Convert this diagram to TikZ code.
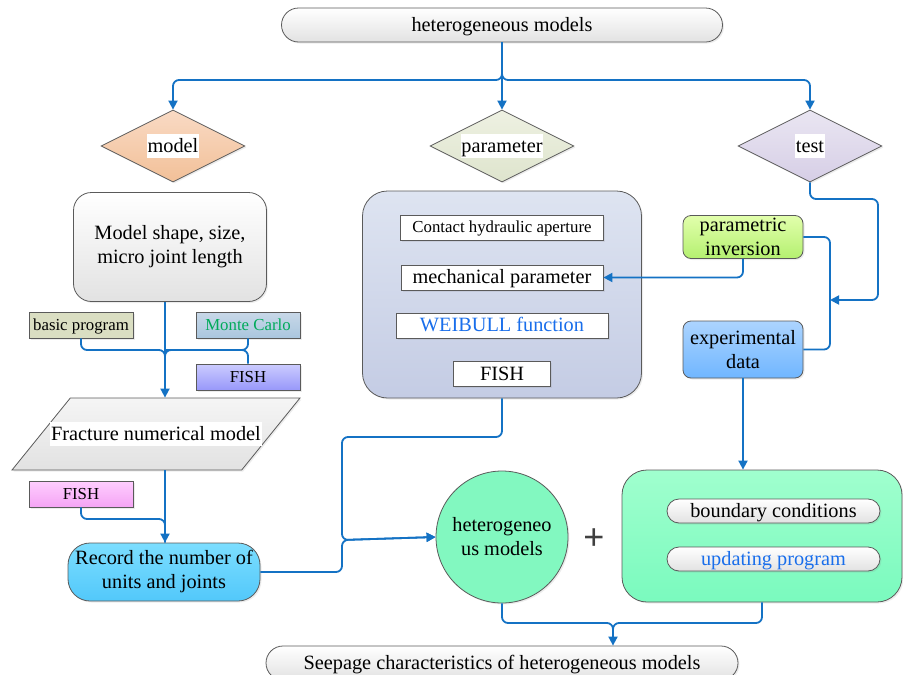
\documentclass[tikz,border=0pt]{standalone}
\usepackage{fontspec}
\setmainfont{Liberation Serif}
\newfontfamily\plusfont{Liberation Sans}
\usetikzlibrary{shapes.geometric,arrows.meta,shadows}
\definecolor{flowblue}{RGB}{20,114,196}
\definecolor{edgegray}{RGB}{90,90,90}
\definecolor{pillgray}{RGB}{226,226,226}
\definecolor{modeltop}{RGB}{249,218,196}
\definecolor{modelbot}{RGB}{242,192,152}
\definecolor{paramtop}{RGB}{238,241,226}
\definecolor{parambot}{RGB}{222,228,205}
\definecolor{testtop}{RGB}{234,230,242}
\definecolor{testbot}{RGB}{214,206,230}
\definecolor{basiccol}{RGB}{218,222,194}
\definecolor{montetop}{RGB}{200,216,232}
\definecolor{montebot}{RGB}{170,198,222}
\definecolor{monteink}{RGB}{0,170,90}
\definecolor{fishtop}{RGB}{204,204,255}
\definecolor{fishbot}{RGB}{152,152,250}
\definecolor{pinktop}{RGB}{255,206,255}
\definecolor{pinkbot}{RGB}{244,164,244}
\definecolor{rectop}{RGB}{124,222,255}
\definecolor{recbot}{RGB}{82,200,250}
\definecolor{boxtop}{RGB}{222,228,241}
\definecolor{boxbot}{RGB}{196,204,228}
\definecolor{invtop}{RGB}{226,255,172}
\definecolor{invbot}{RGB}{180,240,112}
\definecolor{exptop}{RGB}{172,212,255}
\definecolor{expbot}{RGB}{112,182,255}
\definecolor{greentop}{RGB}{160,255,206}
\definecolor{greenbot}{RGB}{122,250,190}
\definecolor{circcol}{RGB}{130,248,192}
\definecolor{linkink}{RGB}{25,110,235}
\definecolor{plusgray}{RGB}{64,64,64}
\setlength{\fboxsep}{0.8pt}
\newcommand{\lblbox}[1]{\colorbox{white}{\rule[-5pt]{0pt}{23pt}#1}}

\begin{document}
\begin{tikzpicture}[x=1pt, y=-1pt,
  every node/.style={font=\fontsize{20.3}{24}\selectfont, align=center, inner sep=0pt},
  oneline/.style={text height=15.9pt, text depth=3.3pt},
  smallline/.style={font=\fontsize{16.8}{19}\selectfont, text height=13.4pt, text depth=2.8pt},
  box/.style={draw=edgegray, line width=0.8pt, drop shadow={opacity=0.15, shadow xshift=1.5pt, shadow yshift=-1.5pt}},
  decision/.style={box, oneline, diamond, aspect=2, minimum width=144pt, minimum height=72pt},
  tag/.style={box, smallline, rectangle, minimum width=104pt, minimum height=26pt},
  inbox/.style={box, oneline, rectangle, fill=white, minimum height=25pt},
  pill/.style={box, oneline, rounded corners=12pt, top color=white, bottom color=pillgray, minimum width=213pt, minimum height=24pt},
  flowline/.style={draw=flowblue, line width=1.8pt, rounded corners=6pt, -{Triangle[length=9pt,width=9pt]}},
  linkline/.style={draw=flowblue, line width=1.8pt, rounded corners=6pt}]
  \useasboundingbox (0,0) rectangle (903,675);

  % Top
  \node[box, oneline, rounded corners=17pt, minimum width=441pt, minimum height=34pt, top color=white, bottom color=pillgray] (title) at (502,25) {heterogeneous models};
  \node[decision, top color=modeltop, bottom color=modelbot] (model) at (173,146) {\lblbox{model}};
  \node[decision, top color=paramtop, bottom color=parambot] (param) at (502,146) {\lblbox{parameter}};
  \node[decision, top color=testtop, bottom color=testbot] (test) at (810,146) {\lblbox{test}};
  \coordinate (jtop) at (502,80);

  % Model branch
  \node[box, rounded corners=18pt, minimum width=193pt, minimum height=109pt, top color=white, bottom color=pillgray] (shape) at (170,247) {Model shape, size,\\micro joint length};
  \node[tag, fill=basiccol] (basic) at (81,325) {basic program};
  \node[tag, top color=montetop, bottom color=montebot, text=monteink] (monte) at (248,325) {Monte Carlo};
  \node[tag, top color=fishtop, bottom color=fishbot] (fishA) at (248,377) {FISH};
  \node[box, oneline, trapezium, trapezium left angle=51, trapezium right angle=129, trapezium stretches body, inner ysep=26.4pt, minimum width=288pt, minimum height=72pt, top color=white!96!black, bottom color=pillgray] (frac) at (156,434) {\makebox[0pt]{\lblbox{Fracture numerical model}}};
  \node[tag, top color=pinktop, bottom color=pinkbot] (fishB) at (81,494) {FISH};
  \node[box, rounded corners=22pt, minimum width=192pt, minimum height=58pt, top color=rectop, bottom color=recbot] (rec) at (164,572) {Record the number of\\units and joints};
  \coordinate (jm) at (165,350);
  \coordinate (jrec) at (165,519);

  % Parameter branch
  \node[box, rounded corners=25pt, minimum width=279pt, minimum height=207pt, top color=boxtop, bottom color=boxbot] (pbox) at (502,294.5) {};
  \node[inbox, smallline, minimum width=203pt] (contact) at (502,227.5) {Contact hydraulic aperture};
  \node[inbox, minimum width=202pt] (mech) at (502,277.5) {mechanical parameter};
  \node[inbox, minimum width=212pt, text=linkink] (weib) at (502,325.5) {WEIBULL function};
  \node[inbox, minimum width=97pt] (fishC) at (502,374) {FISH};

  % Test branch
  \node[box, rounded corners=8pt, minimum width=120pt, minimum height=43pt, top color=invtop, bottom color=invbot] (pinv) at (743,237) {parametric\\inversion};
  \node[box, rounded corners=8pt, minimum width=120pt, minimum height=57pt, top color=exptop, bottom color=expbot] (exp) at (743,349.5) {experimental\\data};
  \coordinate (jv) at (830,300);
  \coordinate (tbend) at (878,199);

  % Result
  \node[box, circle, minimum size=132pt, fill=circcol] (circ) at (502,537) {heterogeneo\\us models};
  \node[text=plusgray, font=\plusfont\fontsize{36}{40}\selectfont] (plus) at (594,539) {+};
  \node[box, rounded corners=25pt, minimum width=280pt, minimum height=132pt, top color=greentop, bottom color=greenbot] (gbox) at (762,536) {};
  \node[pill] (bound) at (773.5,511) {boundary conditions};
  \node[pill, text=linkink] (upd) at (773.5,559) {updating program};
  \node[box, oneline, rounded corners=17pt, minimum width=472pt, minimum height=34pt, top color=white, bottom color=pillgray] (seep) at (502,663) {Seepage characteristics of heterogeneous models};
  \coordinate (jc) at (342,540);
  \coordinate (jp) at (342,437);
  \coordinate (jb) at (613,623);

  \draw[flowline] (title.south) -- (jtop) -| (model.north);
  \draw[flowline] (title.south) -- (param.north);
  \draw[flowline] (title.south) -- (jtop) -| (test.north);

  \draw[flowline] (shape.south -| jm) -- (jm |- frac.north);
  \draw[linkline] (basic.south) |- (jm) -- ++(0,12);
  \draw[linkline] (monte.south) |- (jm) -- ++(0,12);
  \draw[linkline] (fishA.north) |- (jm);
  \draw[flowline] (frac.south -| jm) -- (jm |- rec.north);
  \draw[linkline] (fishB.south) |- (jrec) -- (jm |- rec.north);

  \draw[flowline] (rec.east) -| (jc) -- (circ.west);
  \draw[flowline] (pbox.south) |- (jp) -- (jc) -- (circ.west);
  \draw[flowline] (pinv.south) |- (mech.east);
  \draw[flowline] (test.south) |- (tbend) |- (jv);
  \draw[linkline] (pinv.east) -| (jv) |- (exp.east);
  \draw[flowline] (exp.south) -- (exp.south |- gbox.north);

  \draw[flowline] (circ.south) |- (jb) -- (jb |- seep.north);
  \draw[linkline] (gbox.south) |- (jb) -- ++(0,10);
\end{tikzpicture}
\end{document}
